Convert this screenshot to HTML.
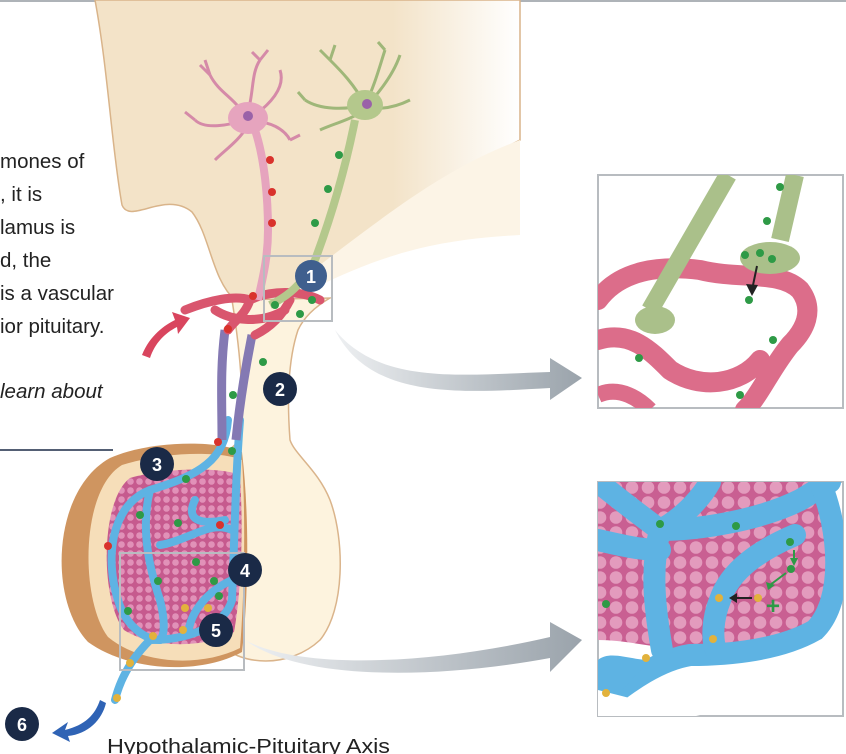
<!DOCTYPE html>
<html><head><style>
html,body{margin:0;padding:0;background:#fff;width:846px;height:754px;overflow:hidden}
svg{position:absolute;left:0;top:0}
.t{font-family:"Liberation Sans",sans-serif;font-size:20.5px;fill:#222}
.n{font-family:"Liberation Sans",sans-serif;font-size:18px;font-weight:bold;fill:#fff;text-anchor:middle}
</style></head><body>
<svg width="846" height="754" viewBox="0 0 846 754">
<defs>
<linearGradient id="fade" x1="0" x2="1"><stop offset="0.7" stop-color="#f3e3c8"/><stop offset="1" stop-color="#fff"/></linearGradient>
<linearGradient id="arr" x1="0" x2="1"><stop offset="0" stop-color="#eef0f2"/><stop offset="1" stop-color="#9aa3ab"/></linearGradient>
<pattern id="cells" width="9" height="9" patternUnits="userSpaceOnUse"><rect width="9" height="9" fill="#c65a8e"/><circle cx="4.5" cy="4.5" r="3.3" fill="#e191b8"/></pattern>
<pattern id="cells2" width="16" height="15" patternUnits="userSpaceOnUse"><rect width="16" height="15" fill="#c95f92"/><circle cx="8" cy="7.5" r="6.3" fill="#e39bbd"/></pattern>
<clipPath id="c1"><rect x="598" y="175" width="245" height="233"/></clipPath>
<clipPath id="c2"><rect x="598" y="482" width="245" height="234"/></clipPath>
</defs>
<line x1="0" y1="1" x2="846" y2="1" stroke="#aeb3b8" stroke-width="2"/>
<path d="M95,0 C108,70 112,150 122,205 C130,225 165,190 192,212 C210,235 212,280 235,300 L300,295 C360,260 420,190 520,140 L520,0 Z" fill="url(#fade)" stroke="#d9b48a" stroke-width="1.5"/>
<path d="M300,295 C380,255 430,240 520,235 L520,140 C440,170 380,220 300,280 Z" fill="#fcf4e6"/>
<path d="M232,300 C240,350 245,400 240,440 C225,455 200,470 205,500 L215,640 C240,668 290,668 320,640 C345,610 345,540 330,500 C318,470 295,455 290,440 C287,400 288,360 298,330 C305,315 318,305 330,298 Z" fill="#fdf3de" stroke="#dab48b" stroke-width="1.5"/>
<path d="M110,458 C150,440 220,440 242,452 C250,520 248,600 242,652 C200,675 130,672 88,642 C48,600 52,490 110,458 Z" fill="#cf9560"/>
<path d="M122,465 C170,450 225,452 242,460 C246,520 244,600 240,648 C200,668 140,664 108,637 C80,600 80,490 122,465 Z" fill="#f6deb9"/>
<path d="M130,478 C170,466 232,468 240,476 C244,540 240,600 234,632 C200,650 150,647 124,630 C100,600 100,500 130,478 Z" fill="url(#cells)"/>
<g fill="none" stroke="#5eb3e3" stroke-width="8" stroke-linecap="round">
<path d="M228,420 C225,460 200,475 150,490 C110,505 105,560 118,600 C125,625 145,640 160,640"/>
<path d="M240,420 C236,470 235,520 232,600 C225,625 190,640 150,640 C130,660 120,680 115,700"/>
<path d="M150,490 C140,530 150,570 160,600 C165,620 165,635 160,640"/>
<path d="M195,500 C185,520 200,525 225,520"/>
<path d="M160,545 C190,540 210,520 232,530"/>
<path d="M232,580 C210,590 190,610 188,635"/>
</g>
<path d="M225,330 C220,370 222,400 222,440" stroke="#8479b3" stroke-width="9" fill="none"/>
<path d="M252,335 C245,370 240,400 236,440" stroke="#8479b3" stroke-width="9" fill="none"/>
<g fill="none" stroke="#d9566e" stroke-width="9" stroke-linecap="round">
<path d="M185,310 C210,300 235,295 250,300 C270,290 300,290 320,300"/>
<path d="M215,310 C230,320 260,325 285,310"/>
<path d="M250,300 C245,315 235,320 228,330"/>
<path d="M290,300 C280,320 265,330 255,335"/>
</g>
<g stroke="#d58aa8" fill="none" stroke-width="3">
<path d="M245,120 C240,100 220,95 210,75 M245,120 C255,95 250,75 260,60 M245,120 C230,125 205,130 195,120 M250,122 C270,120 285,130 290,140 M248,125 C240,140 225,150 215,160 M255,115 C275,100 285,85 280,70"/>
<path d="M210,75 L200,65 M210,75 L205,60 M260,60 L252,52 M260,60 L268,50 M195,120 L185,112 M290,140 L300,135"/>
</g>
<ellipse cx="248" cy="118" rx="20" ry="16" fill="#e6a4be"/>
<circle cx="248" cy="116" r="5" fill="#9a62a8"/>
<path d="M255,130 C265,160 268,200 268,230 C268,260 262,280 258,300" stroke="#e6a4be" stroke-width="8" fill="none"/>
<g stroke="#9fb779" fill="none" stroke-width="3">
<path d="M365,105 C355,85 340,70 330,60 M365,105 C375,85 380,65 385,50 M365,105 C345,110 320,110 305,100 M368,108 C385,110 400,105 410,100 M365,110 C350,120 330,125 320,130 M372,100 C385,85 395,70 400,55"/>
<path d="M330,60 L320,50 M330,60 L335,45 M385,50 L378,42 M305,100 L298,92"/>
</g>
<ellipse cx="365" cy="105" rx="18" ry="15" fill="#b4c88c"/>
<circle cx="367" cy="104" r="5" fill="#9a62a8"/>
<path d="M355,120 C345,170 330,220 315,260 C300,290 280,300 270,305" stroke="#b4c88c" stroke-width="8" fill="none"/>
<g fill="#d9322c"><circle cx="270" cy="160" r="4"/><circle cx="272" cy="192" r="4"/><circle cx="272" cy="223" r="4"/><circle cx="253" cy="296" r="4"/><circle cx="228" cy="329" r="4"/><circle cx="218" cy="442" r="4"/><circle cx="220" cy="525" r="4"/><circle cx="108" cy="546" r="4"/></g>
<g fill="#2e9a46"><circle cx="339" cy="155" r="4"/><circle cx="328" cy="189" r="4"/><circle cx="315" cy="223" r="4"/><circle cx="275" cy="305" r="4"/><circle cx="300" cy="314" r="4"/><circle cx="312" cy="300" r="4"/><circle cx="263" cy="362" r="4"/><circle cx="233" cy="395" r="4"/><circle cx="232" cy="451" r="4"/><circle cx="186" cy="479" r="4"/><circle cx="140" cy="515" r="4"/><circle cx="178" cy="523" r="4"/><circle cx="196" cy="562" r="4"/><circle cx="158" cy="581" r="4"/><circle cx="214" cy="581" r="4"/><circle cx="219" cy="596" r="4"/><circle cx="128" cy="611" r="4"/></g>
<g fill="#e2b23c"><circle cx="185" cy="608" r="4"/><circle cx="208" cy="608" r="4"/><circle cx="153" cy="636" r="4"/><circle cx="183" cy="630" r="4"/><circle cx="130" cy="663" r="4"/><circle cx="117" cy="698" r="4"/></g>
<rect x="264" y="256" width="68" height="65" fill="none" stroke="#b8bcc0" stroke-width="2"/>
<rect x="120" y="553" width="124" height="117" fill="none" stroke="#b8bcc0" stroke-width="2"/>
<path d="M335,330 C380,385 460,375 550,372 L550,358 L582,378 L550,400 L550,388 C460,393 370,400 335,330 Z" fill="url(#arr)"/>
<path d="M245,640 C300,670 430,665 550,637 L550,622 L582,640 L550,672 L550,658 C430,680 300,680 245,640 Z" fill="url(#arr)"/>
<path d="M142,355 C150,335 165,325 175,320 L172,312 L190,318 L178,334 L177,327 C165,333 155,343 150,358 Z" fill="#d9455e"/>
<path d="M100,700 C95,715 85,725 65,730 L68,722 L52,733 L70,742 L68,736 C88,734 102,720 106,703 Z" fill="#2f63b5"/>
<rect x="598" y="175" width="245" height="233" fill="#fff" stroke="#b8bcc0" stroke-width="2"/>
<g clip-path="url(#c1)">
<path d="M598,300 C620,270 660,265 700,270 C740,280 780,270 800,290 C815,310 805,330 790,345 C770,370 760,395 745,410 M598,340 C630,330 650,350 670,370 C700,390 740,385 760,360" fill="none" stroke="#dc6d8a" stroke-width="20" stroke-linecap="round"/>
<path d="M598,395 C620,385 640,400 650,410" fill="none" stroke="#dc6d8a" stroke-width="16"/>
<path d="M728,175 L650,310" stroke="#aac08a" stroke-width="18"/>
<ellipse cx="655" cy="320" rx="20" ry="14" fill="#aac08a"/>
<path d="M795,175 L780,240" stroke="#aac08a" stroke-width="18"/>
<ellipse cx="770" cy="258" rx="30" ry="16" fill="#aac08a"/>
<g fill="#2e9a46"><circle cx="780" cy="187" r="4"/><circle cx="767" cy="221" r="4"/><circle cx="745" cy="255" r="4"/><circle cx="760" cy="253" r="4"/><circle cx="772" cy="259" r="4"/><circle cx="749" cy="300" r="4"/><circle cx="773" cy="340" r="4"/><circle cx="639" cy="358" r="4"/><circle cx="740" cy="395" r="4"/></g>
<path d="M757,266 L752,290" stroke="#222" stroke-width="2"/><path d="M746,284 L752,296 L758,285 Z" fill="#222"/>
</g>
<rect x="598" y="482" width="245" height="234" fill="#fff" stroke="#b8bcc0" stroke-width="2"/>
<g clip-path="url(#c2)">
<path d="M598,482 L830,482 C843,520 845,580 830,620 C800,640 740,650 700,650 C660,650 630,640 598,640 Z" fill="url(#cells2)"/>
<g fill="none" stroke="#5eb3e3" stroke-width="22" stroke-linecap="round">
<path d="M598,482 C620,500 640,515 660,530 C700,530 760,520 800,500 L830,482"/>
<path d="M820,482 C840,530 845,600 815,630 C780,650 730,655 690,655 C660,660 630,680 600,705"/>
<path d="M660,530 C650,570 655,610 662,650"/>
<path d="M598,540 C620,545 640,550 660,550"/>
<path d="M795,535 C760,550 730,570 720,600 C712,620 712,640 716,650"/>
<path d="M660,530 C680,520 700,500 710,482"/>
</g>
<path d="M598,660 C610,650 630,660 650,660 L598,716 Z" fill="#5eb3e3"/>
<path d="M598,690 L700,716 L598,716 Z" fill="#fff"/>
<g fill="#2e9a46"><circle cx="660" cy="524" r="4"/><circle cx="736" cy="526" r="4"/><circle cx="790" cy="542" r="4"/><circle cx="791" cy="569" r="4"/><circle cx="606" cy="604" r="4"/></g>
<g fill="#e2b23c"><circle cx="719" cy="598" r="4"/><circle cx="758" cy="598" r="4"/><circle cx="713" cy="639" r="4"/><circle cx="646" cy="658" r="4"/><circle cx="606" cy="693" r="4"/></g>
<path d="M794,550 L794,562" stroke="#2e9a46" stroke-width="2"/><path d="M790,558 L794,566 L798,558 Z" fill="#2e9a46"/>
<path d="M786,573 L770,585" stroke="#2e9a46" stroke-width="2"/><path d="M766,582 L768,590 L775,585 Z" fill="#2e9a46"/>
<path d="M752,598 L735,598" stroke="#222" stroke-width="2"/><path d="M737,593 L729,598 L737,603 Z" fill="#222"/>
<text x="766" y="614" font-family="Liberation Sans,sans-serif" font-size="24" font-weight="bold" fill="#2e9a46">+</text>
</g>
<g fill="#1a2a47">
<circle cx="311" cy="276" r="16" fill="#3f5f8e"/><circle cx="280" cy="389" r="17"/><circle cx="157" cy="464" r="17"/><circle cx="245" cy="570" r="17"/><circle cx="216" cy="630" r="17"/><circle cx="22" cy="724" r="17"/>
</g>
<text class="n" x="311" y="283">1</text><text class="n" x="280" y="396">2</text><text class="n" x="157" y="471">3</text><text class="n" x="245" y="577">4</text><text class="n" x="216" y="637">5</text><text class="n" x="22" y="731">6</text>
<text class="t" x="0" y="168">mones of</text>
<text class="t" x="0" y="201">, it is</text>
<text class="t" x="0" y="234">lamus is</text>
<text class="t" x="0" y="267">d, the</text>
<text class="t" x="0" y="300">is a vascular</text>
<text class="t" x="0" y="333">ior pituitary.</text>
<text class="t" x="0" y="398" font-style="italic">learn about</text>
<line x1="0" y1="450" x2="113" y2="450" stroke="#1a2a47" stroke-width="1.5"/>
<text class="t" x="107" y="753" textLength="283" lengthAdjust="spacingAndGlyphs">Hypothalamic-Pituitary Axis</text>
</svg>
</body></html>
